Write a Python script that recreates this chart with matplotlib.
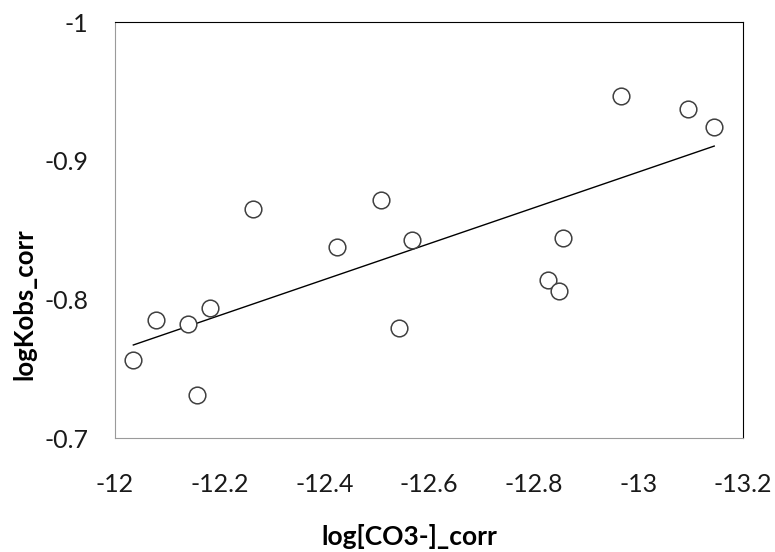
import numpy as np
import matplotlib
matplotlib.use('Agg')
import matplotlib.pyplot as plt

plt.rcParams['font.family'] = ['Lato', 'DejaVu Sans']

log_co3 = [-12.035, -12.079, -12.140, -12.156, -12.181, -12.263, -12.424, -12.509,
           -12.543, -12.567, -12.827, -12.848, -12.857, -12.967, -13.094, -13.145]
log_kobs = [-0.756, -0.785, -0.782, -0.731, -0.794, -0.865, -0.838, -0.872,
            -0.779, -0.843, -0.814, -0.806, -0.844, -0.947, -0.937, -0.924]

x_ticks = [-12, -12.2, -12.4, -12.6, -12.8, -13, -13.2]
x_labels = ['-12', '-12.2', '-12.4', '-12.6', '-12.8', '-13', '-13.2']
y_ticks = [-0.7, -0.8, -0.9, -1.0]
y_labels = ['-0.7', '-0.8', '-0.9', '-1']

fig = plt.figure(figsize=(7.75, 5.52), dpi=100)
ax = fig.add_axes([0.1484, 0.2065, 0.8103, 0.7536])

# linear trend line over the data span
slope, icpt = np.polyfit(log_co3, log_kobs, 1)
xs = np.array([min(log_co3), max(log_co3)])
ax.plot(xs, slope * xs + icpt, color='black', lw=1.0)

ax.plot(log_co3, log_kobs, 'o', ms=12, mfc='white', mec='#404040', mew=1.1)

ax.set_xlim(-12, -13.2)
ax.set_ylim(-0.7, -1.0)
ax.set_xticks(x_ticks)
ax.set_xticklabels(x_labels)
ax.set_yticks(y_ticks)
ax.set_yticklabels(y_labels)
ax.tick_params(length=0, labelsize=18, colors='#1a1a1a')
ax.tick_params(axis='x', pad=25)
ax.tick_params(axis='y', pad=19)

for side in ['left', 'bottom']:
    ax.spines[side].set_color('#9a9a9a')
for side in ['top', 'right']:
    ax.spines[side].set_color('black')

fig.text(0.528, 0.006, 'log[CO3-]_corr', fontsize=19, fontweight='bold',
         ha='center', va='bottom')
fig.text(0.031, 0.449, 'logKobs_corr', fontsize=18.5, fontweight='bold',
         rotation=90, ha='center', va='center')

plt.savefig('out.png', dpi=100)
